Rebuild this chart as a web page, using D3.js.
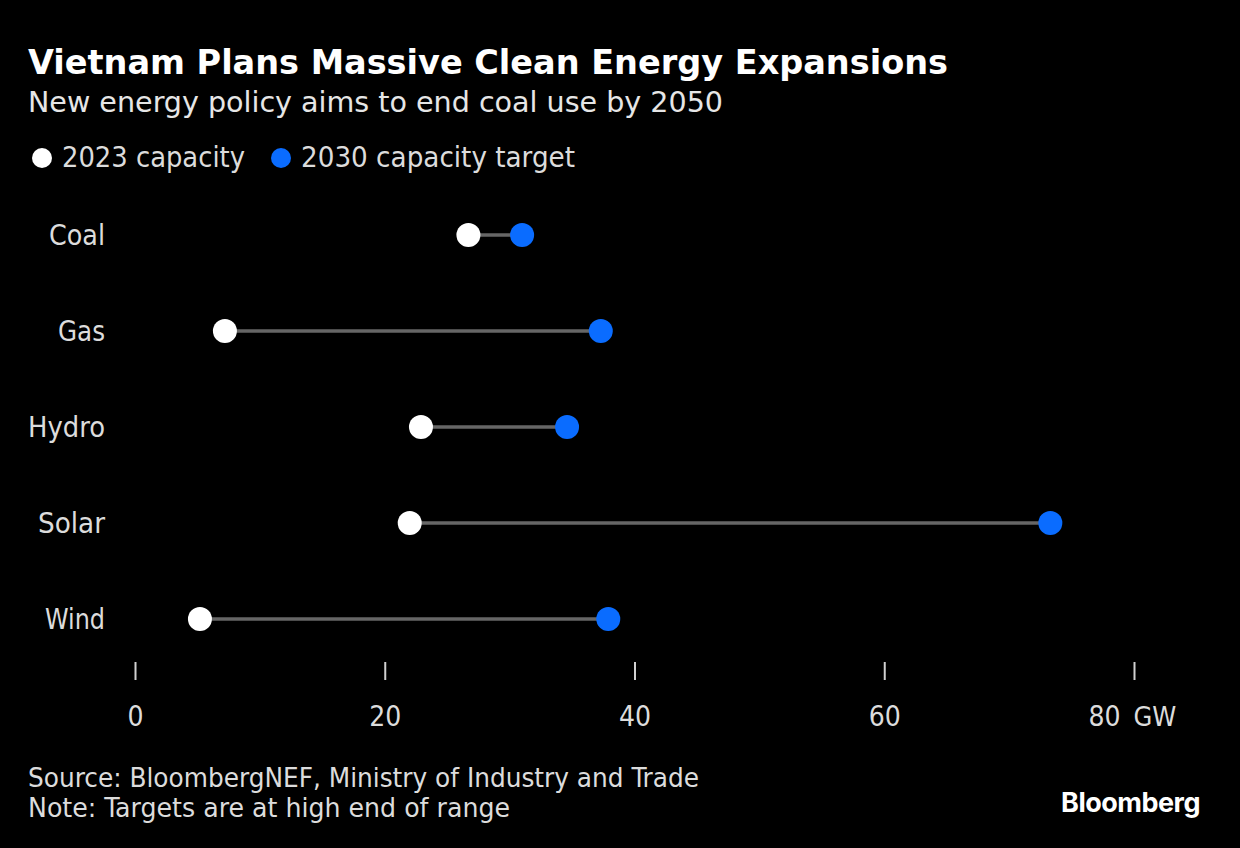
<!DOCTYPE html>
<html>
<head>
<meta charset="utf-8">
<script src="https://cdn.jsdelivr.net/npm/d3@7"></script>
<style>
  body { margin: 0; background: #000; }
  svg text { font-family: "DejaVu Sans Condensed", "Liberation Sans Narrow", sans-serif; }
</style>
</head>
<body>
<svg id="chart" width="1240" height="848"></svg>
<script>
// data
const categories = ["Coal", "Gas", "Hydro", "Solar", "Wind"];
const capacity2023 = [26.7, 7.2, 22.9, 22.0, 5.2];
const target2030 = [31.0, 37.3, 34.6, 73.3, 37.9];
const tickValues = [0, 20, 40, 60, 80];

const width = 1240, height = 848;
const svg = d3.select("#chart");

svg.append("rect").attr("width", width).attr("height", height).attr("fill", "#000");

// stretch text to the reference width (the original font is wider spaced)
function fit(sel, w) {
  sel.attr("textLength", w).attr("lengthAdjust", "spacingAndGlyphs");
  return sel;
}

// scales
const x = d3.scaleLinear().domain([0, 80]).range([135, 1134]);
const y = d3.scalePoint().domain(categories).range([235, 619]);

// title block
fit(svg.append("text").attr("x", 28).attr("y", 74)
  .attr("fill", "#fff").attr("font-size", 34).attr("font-weight", "bold")
  .text("Vietnam Plans Massive Clean Energy Expansions"), 920);
fit(svg.append("text").attr("x", 28).attr("y", 112)
  .attr("fill", "#e6e6e6").attr("font-size", 28)
  .text("New energy policy aims to end coal use by 2050"), 695);

// legend
const legend = [
  { label: "2023 capacity", color: "#ffffff", cx: 42, w: 183 },
  { label: "2030 capacity target", color: "#0a6cff", cx: 281, w: 274 }
];
legend.forEach(l => {
  svg.append("circle").attr("cx", l.cx).attr("cy", 158).attr("r", 10).attr("fill", l.color);
  fit(svg.append("text").attr("x", l.cx + 20).attr("y", 167)
    .attr("fill", "#dcdcdc").attr("font-size", 28).text(l.label), l.w);
});

const rows = categories.map((c, i) => ({ cat: c, a: capacity2023[i], b: target2030[i] }));
const labelW = { Coal: 56, Gas: 47, Hydro: 77, Solar: 67, Wind: 60 };

// category labels
svg.selectAll(".cat").data(rows).join("text")
  .attr("class", "cat")
  .attr("x", 105).attr("y", d => y(d.cat) + 10)
  .attr("text-anchor", "end")
  .attr("fill", "#dcdcdc").attr("font-size", 28)
  .attr("textLength", d => labelW[d.cat]).attr("lengthAdjust", "spacingAndGlyphs")
  .text(d => d.cat);

// connector lines
svg.selectAll(".conn").data(rows).join("line")
  .attr("class", "conn")
  .attr("x1", d => x(d.a)).attr("x2", d => x(d.b))
  .attr("y1", d => y(d.cat)).attr("y2", d => y(d.cat))
  .attr("stroke", "#666").attr("stroke-width", 3.5);

svg.selectAll(".dot2023").data(rows).join("circle")
  .attr("class", "dot2023")
  .attr("cx", d => x(d.a)).attr("cy", d => y(d.cat)).attr("r", 12)
  .attr("fill", "#fff");

svg.selectAll(".dot2030").data(rows).join("circle")
  .attr("class", "dot2030")
  .attr("cx", d => x(d.b)).attr("cy", d => y(d.cat)).attr("r", 12)
  .attr("fill", "#0a6cff");

// x axis: just ticks and labels
const axis = svg.append("g").attr("transform", "translate(0,662)")
  .call(d3.axisBottom(x).tickValues(tickValues).tickSize(18).tickPadding(26)
    .tickFormat(d => d));
axis.select(".domain").remove();
axis.selectAll(".tick line").attr("stroke", "#d0d0d0").attr("stroke-width", 2);
axis.selectAll(".tick text")
  .attr("fill", "#dcdcdc").attr("font-size", 28)
  .attr("font-family", null);
// last tick carries the unit, with a wide gap like the original
const last = axis.selectAll(".tick").filter(d => d === 80).select("text")
  .attr("text-anchor", "start").attr("x", -46).text(null);
last.append("tspan").text("80");
last.append("tspan").attr("x", -1).attr("font-size", 27).text("GW");

// footer
fit(svg.append("text").attr("x", 28).attr("y", 787)
  .attr("fill", "#dcdcdc").attr("font-size", 26)
  .text("Source: BloombergNEF, Ministry of Industry and Trade"), 671);
fit(svg.append("text").attr("x", 28).attr("y", 817)
  .attr("fill", "#dcdcdc").attr("font-size", 26)
  .text("Note: Targets are at high end of range"), 482);

svg.append("text").attr("x", 1200).attr("y", 812)
  .attr("text-anchor", "end")
  .attr("fill", "#fff").attr("font-size", 27).attr("font-weight", "bold")
  .style("font-family", "Inter, Roboto, sans-serif")
  .style("letter-spacing", "-0.5px")
  .text("Bloomberg");
</script>
</body>
</html>
